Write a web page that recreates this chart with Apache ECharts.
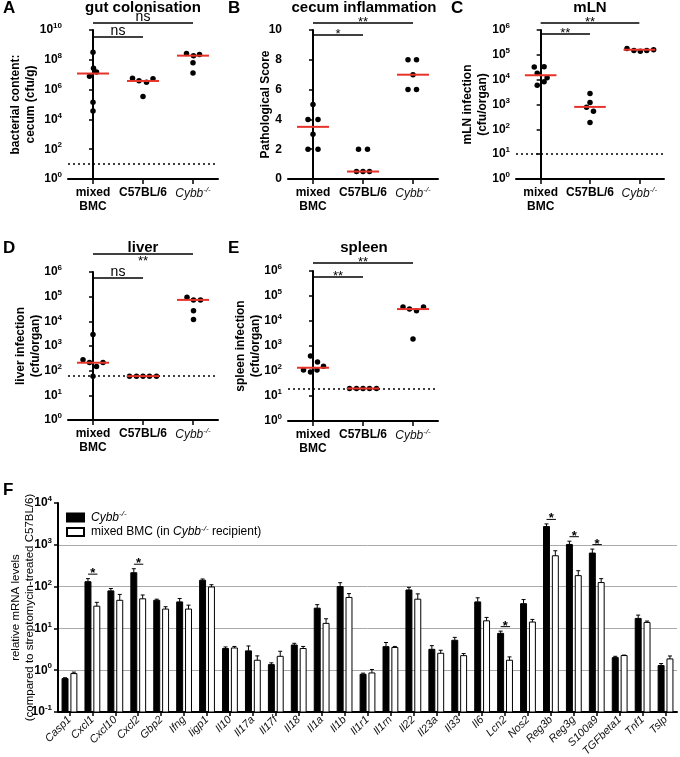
<!DOCTYPE html>
<html><head><meta charset="utf-8">
<script src="https://cdn.jsdelivr.net/npm/echarts@6/dist/echarts.min.js"></script>
<style>html,body{margin:0;padding:0;background:#fff}#c{width:680px;height:757px}</style>
</head><body><div id="c"></div>
<script>
const FONT = '"Liberation Sans", Arial, Helvetica, sans-serif';
const groupLabels = ['mixed\nBMC', 'C57BL/6', 'Cybb-/-'];

// A: gut colonisation (cfu/g)
const gutMixed = [3.2e8, 2.7e7, 1.5e7, 7.8e6, 1.4e5, 3.7e4];
const gutC57 = [5.7e6, 4.0e6, 3.1e6, 5.4e6, 3.4e5];
const gutCybb = [2.6e8, 1.9e8, 2.3e8, 6.4e7, 1.3e7];
const gutJitter = [[0, 0.01, 0.07, -0.07, 0, 0], [-0.21, -0.08, 0.07, 0.2, 0], [-0.13, 0.01, 0.13, 0, 0]];
const gutMedians = [1.2e7, 3.8e6, 1.9e8];
const gutLimit = 10;
const gutSig = [[0, 1, 'ns'], [0, 2, 'ns']];

// B: cecum inflammation (score)
const scoreMixed = [5, 4, 4, 3, 2, 2];
const scoreC57 = [2, 2, 0.5, 0.5, 0.5];
const scoreCybb = [8, 8, 7, 6, 6];
const scoreJitter = [[0, -0.1, 0.1, 0, -0.1, 0.1], [-0.09, 0.09, -0.13, 0, 0.13], [-0.1, 0.07, 0, -0.1, 0.07]];
const scoreMedians = [3.5, 0.5, 7];
const scoreSig = [[0, 1, '*'], [0, 2, '**']];

// C: mLN
const mlnMixed = [3.2e4, 3.3e4, 1.8e4, 1.2e4, 8.3e3, 5.9e3];
const mlnC57 = [2.8e3, 1.2e3, 770, 530, 190];
const mlnCybb = [1.8e5, 1.5e5, 1.4e5, 1.5e5, 1.6e5];
const mlnJitter = [[-0.13, 0.07, -0.07, 0.13, 0.07, -0.07], [0, 0, -0.07, 0.07, 0], [-0.25, -0.11, 0.02, 0.15, 0.29]];
const mlnMedians = [1.5e4, 800, 1.6e5];
const mlnLimit = 10;
const mlnSig = [[0, 1, '**'], [0, 2, '**']];

// D: liver
const liverMixed = [275, 2900, 214, 148, 214, 60];
const liverC57 = [60, 60, 60, 60, 60];
const liverCybb = [9.4e4, 7.4e4, 7.4e4, 2.7e4, 1.2e4];
const liverJitter = [[-0.2, 0, -0.07, 0.07, 0.2, 0], [-0.27, -0.13, 0, 0.13, 0.27], [-0.12, 0.01, 0.15, 0.01, 0.01]];
const liverMedians = [210, 60, 7.4e4];
const liverLimit = 60;
const liverSig = [[0, 1, 'ns'], [0, 2, '**']];

// E: spleen
const spleenMixed = [110, 400, 91, 110, 230, 155];
const spleenC57 = [20, 20, 20, 20, 20];
const spleenCybb = [3.6e4, 3.0e4, 2.6e4, 3.6e4, 1.9e3];
const spleenJitter = [[-0.19, -0.05, -0.05, 0.08, 0.09, 0.21], [-0.27, -0.13, 0, 0.13, 0.27], [-0.2, -0.07, 0.07, 0.21, 0]];
const spleenMedians = [135, 20, 3.0e4];
const spleenLimit = 20;
const spleenSig = [[0, 1, '**'], [0, 2, '**']];

// F: relative mRNA levels
const genes = ['Casp1','Cxcl1','Cxcl10','Cxcl2','Gbp2','Ifng','Iigp1','Il10','Il17a','Il17f','Il18','Il1a','Il1b','Il1r1','Il1rn','Il22','Il23a','Il33','Il6','Lcn2','Nos2','Reg3b','Reg3g','S100a9','TGFbeta1','Tnf1','Tslp'];
const cybbMean = [0.63, 131, 79, 215, 47, 43, 142, 3.3, 2.9, 1.36, 4.0, 30.5, 100, 0.80, 3.66, 83, 3.16, 5.2, 43, 7.6, 39, 2730, 1020, 634, 2.0, 17.3, 1.29];
const cybbUpper = [0.66, 155, 90, 268, 50, 52, 152, 3.6, 3.8, 1.5, 4.4, 37, 124, 0.85, 4.6, 96, 3.87, 6.1, 54, 8.6, 49, 3160, 1220, 789, 2.15, 20.8, 1.44];
const bmcMean = [0.83, 34, 47, 51, 29, 29, 98, 3.4, 1.73, 2.15, 3.3, 13.2, 55, 0.86, 3.5, 50, 2.54, 2.23, 15.2, 1.73, 14.2, 547, 183, 125, 2.24, 13.9, 1.86];
const bmcUpper = [0.90, 42, 65, 63, 33, 36, 111, 3.7, 2.2, 2.84, 3.7, 17, 68, 1.04, 3.7, 67, 3.0, 2.5, 18.3, 2.08, 16.4, 720, 240, 155, 2.3, 15, 2.19];
const geneSig = ['Cxcl1', 'Cxcl2', 'Lcn2', 'Reg3b', 'Reg3g', 'S100a9'];
const seriesNames = ['Cybb-/-', 'mixed BMC (in Cybb-/- recipient)'];

const panels = [
  {letter:'A', title:'gut colonisation', yName:'bacterial content:\ncecum (cfu/g)', type:'log', logBase:100, min:1, max:1e10,
   groups:[gutMixed, gutC57, gutCybb], jitter:gutJitter, medians:gutMedians, limit:gutLimit, sig:gutSig,
   box:{left:68, top:30, width:150, height:149}, nameGap:30, upY:-7, lowY:7, starBelow:false, tx:143, ty:8, lx:3, ly:8},
  {letter:'B', title:'cecum inflammation', yName:'Pathological Score', type:'value', min:0, max:10, interval:2,
   groups:[scoreMixed, scoreC57, scoreCybb], jitter:scoreJitter, medians:scoreMedians, limit:null, sig:scoreSig,
   box:{left:288, top:30, width:150, height:149}, nameGap:15, upY:-7, lowY:5, starBelow:false, tx:364, ty:8, lx:228, ly:8},
  {letter:'C', title:'mLN', yName:'mLN infection\n(cfu/organ)', type:'log', logBase:10, min:1, max:1e6,
   groups:[mlnMixed, mlnC57, mlnCybb], jitter:mlnJitter, medians:mlnMedians, limit:mlnLimit, sig:mlnSig,
   box:{left:516, top:30, width:148, height:149}, nameGap:26, upY:-7, lowY:4, starBelow:false, tx:590, ty:8, lx:451, ly:8},
  {letter:'D', title:'liver', yName:'liver infection\n(cfu/organ)', type:'log', logBase:10, min:1, max:1e6,
   groups:[liverMixed, liverC57, liverCybb], jitter:liverJitter, medians:liverMedians, limit:liverLimit, sig:liverSig,
   box:{left:68, top:272, width:150, height:148}, nameGap:25, upY:-18, lowY:6, starBelow:true, tx:143, ty:248, lx:3, ly:248},
  {letter:'E', title:'spleen', yName:'spleen infection\n(cfu/organ)', type:'log', logBase:10, min:1, max:1e6,
   groups:[spleenMixed, spleenC57, spleenCybb], jitter:spleenJitter, medians:spleenMedians, limit:spleenLimit, sig:spleenSig,
   box:{left:288, top:271, width:150, height:150}, nameGap:25, upY:-8, lowY:6, starBelow:false, tx:364, ty:248, lx:228, ly:248}
];

const rich = {
  b: {fontFamily: FONT, fontSize: 12, fontWeight: 'bold', color: '#000', lineHeight: 16},
  s: {fontFamily: FONT, fontSize: 8, fontWeight: 'bold', color: '#000', lineHeight: 9, verticalAlign: 'top'},
  m: {fontFamily: FONT, fontSize: 12, fontWeight: 'bold', color: '#000', lineHeight: 14},
  i: {fontFamily: FONT, fontSize: 12, fontStyle: 'italic', color: '#111', lineHeight: 16},
  is: {fontFamily: FONT, fontSize: 8, fontStyle: 'italic', color: '#111', lineHeight: 9, verticalAlign: 'top'}
};
function powLabel(v) { const e = Math.round(Math.log10(v)); return '{b|10}{s|' + e + '}'; }
function groupLabel(v) {
  if (v.indexOf('Cybb') === 0) return '{i|Cybb}{is|-/-}';
  return v.split('\n').map(t => '{m|' + t + '}').join('\n');
}
const axisLineStyle = {show: true, lineStyle: {color: '#000', width: 2}};

const grid = [], xAxis = [], yAxis = [], series = [], graphic = [];

panels.forEach((p, k) => {
  grid.push(Object.assign({containLabel: false, outerBoundsMode: 'none'}, p.box));
  xAxis.push({type: 'category', gridIndex: k, data: groupLabels, boundaryGap: true,
    axisLine: axisLineStyle, axisTick: {show: true, alignWithLabel: true, length: 5, lineStyle: {color: '#000', width: 1.5}},
    axisLabel: {interval: 0, margin: 7, formatter: groupLabel, rich: rich}, splitLine: {show: false}});
  xAxis.push({type: 'value', gridIndex: k, min: -0.5, max: 2.5, show: false});
  const ya = {type: p.type, gridIndex: k, min: p.min, max: p.max,
    axisLine: axisLineStyle, axisTick: {show: true, length: 4, lineStyle: {color: '#000', width: 1.5}},
    splitLine: {show: false},
    name: p.yName, nameLocation: 'middle', nameGap: p.nameGap, nameMoveOverlap: false,
    nameTextStyle: {fontFamily: FONT, fontSize: 12, fontWeight: 'bold', color: '#000', lineHeight: 15}};
  if (p.type === 'log') {
    ya.logBase = p.logBase;
    ya.axisLabel = {margin: 6, formatter: powLabel, rich: rich};
  } else {
    ya.interval = p.interval;
    ya.axisLabel = {margin: 6, fontFamily: FONT, fontSize: 12, fontWeight: 'bold', color: '#000'};
  }
  yAxis.push(ya);

  const pts = [];
  p.groups.forEach((arr, g) => arr.forEach((v, j) => pts.push([g + p.jitter[g][j], v])));
  const sc = {type: 'scatter', xAxisIndex: 2 * k + 1, yAxisIndex: k, data: pts, symbolSize: 5.5,
    itemStyle: {color: '#000', opacity: 1}, z: 3, silent: true};
  if (p.limit != null) {
    sc.markLine = {silent: true, symbol: 'none', label: {show: false},
      lineStyle: {color: '#000', type: [2, 3], width: 1.5, opacity: 1}, data: [{yAxis: p.limit}]};
  }
  series.push(sc);

  series.push({type: 'custom', xAxisIndex: 2 * k + 1, yAxisIndex: k, z: 5, silent: true,
    data: p.medians.map((m, g) => [g, m]), encode: {x: 0, y: 1},
    renderItem: (params, api) => {
      const g = api.value(0), m = api.value(1);
      const a = api.coord([g - 0.32, m]), b = api.coord([g + 0.32, m]);
      return {type: 'line', shape: {x1: a[0], y1: a[1], x2: b[0], y2: b[1]}, style: {stroke: '#e5332a', lineWidth: 2}};
    }});

  series.push({type: 'custom', xAxisIndex: 2 * k + 1, yAxisIndex: k, z: 5, silent: true, clip: false,
    data: p.sig.map(s => [s[0], s[1], p.min]), encode: {x: [0, 1], y: 2},
    renderItem: (params, api) => {
      const s = p.sig[params.dataIndex];
      const cs = params.coordSys;
      const upper = s[1] === 2;
      const y = cs.y + (upper ? p.upY : p.lowY);
      const x1 = api.coord([api.value(0), p.min])[0];
      const x2 = api.coord([api.value(1), p.min])[0];
      const isStar = s[2].indexOf('*') >= 0;
      let ty, va;
      if (!isStar) { ty = y + 1; va = 'bottom'; }
      else if (upper && p.starBelow) { ty = y + 1; va = 'top'; }
      else { ty = y - 7; va = 'top'; }
      return {type: 'group', children: [
        {type: 'line', shape: {x1: x1, y1: y, x2: x2, y2: y}, style: {stroke: '#000', lineWidth: 1.5}},
        {type: 'text', style: {text: s[2], x: (x1 + x2) / 2, y: ty, fill: '#000',
          font: (isStar ? '13px ' : '14px ') + FONT, align: 'center', textAlign: 'center', verticalAlign: va, textVerticalAlign: va}}
      ]};
    }});

  graphic.push({type: 'text', x: p.tx, y: p.ty, style: {text: p.title, fill: '#000', font: 'bold 15px ' + FONT,
    align: 'center', textAlign: 'center', verticalAlign: 'middle', textVerticalAlign: 'middle'}});
  graphic.push({type: 'text', x: p.lx, y: p.ly, style: {text: p.letter, fill: '#000', font: 'bold 17px ' + FONT,
    align: 'left', textAlign: 'left', verticalAlign: 'middle', textVerticalAlign: 'middle'}});
});

// Panel F
const fk = panels.length;
const F_MIN = 0.1;
grid.push({left: 58, top: 503, width: 619, height: 209, containLabel: false, outerBoundsMode: 'none'});
xAxis.push({type: 'category', gridIndex: fk, data: genes, boundaryGap: true,
  axisLine: axisLineStyle, axisTick: {show: true, alignWithLabel: true, length: 4, lineStyle: {color: '#000', width: 1.5}},
  axisLabel: {interval: 0, rotate: 45, margin: 6, fontFamily: FONT, fontSize: 11, fontStyle: 'italic', color: '#111'}});
yAxis.push({type: 'log', logBase: 10, gridIndex: fk, min: F_MIN, max: 1e4,
  axisLine: axisLineStyle, axisTick: {show: true, length: 4, lineStyle: {color: '#000', width: 1.5}},
  axisLabel: {margin: 6, formatter: powLabel, rich: rich},
  splitLine: {show: true, showMinLine: false, showMaxLine: false, lineStyle: {color: '#aaa', width: 1}},
  name: 'relative mRNA levels\n(compared to streptomycin-treated C57BL/6)', nameLocation: 'middle', nameGap: 21,
  nameMoveOverlap: false,
  nameTextStyle: {fontFamily: FONT, fontSize: 11.5, color: '#000', lineHeight: 14}});

function barRender(side, fill) {
  return (params, api) => {
    const c = api.value(0), v = api.value(1), e = api.value(2);
    const band = api.size([1, 0])[0];
    const top = api.coord([c, v]), base = api.coord([c, F_MIN]), et = api.coord([c, e]);
    const cx = top[0] + side * band * 0.193;
    const w = band * 0.26;
    return {type: 'group', children: [
      {type: 'rect', shape: {x: cx - w / 2, y: top[1], width: w, height: base[1] - top[1]},
        style: {fill: fill, stroke: '#000', lineWidth: 1}},
      {type: 'line', shape: {x1: cx, y1: top[1], x2: cx, y2: et[1]}, style: {stroke: '#000', lineWidth: 1}},
      {type: 'line', shape: {x1: cx - 2, y1: et[1], x2: cx + 2, y2: et[1]}, style: {stroke: '#000', lineWidth: 1}}
    ]};
  };
}
series.push({name: seriesNames[0], type: 'custom', xAxisIndex: 2 * fk, yAxisIndex: fk, silent: true,
  itemStyle: {color: '#000', borderColor: '#000', borderWidth: 1},
  data: genes.map((g, i) => [g, cybbMean[i], cybbUpper[i]]), encode: {x: 0, y: 1},
  renderItem: barRender(-1, '#000')});
series.push({name: seriesNames[1], type: 'custom', xAxisIndex: 2 * fk, yAxisIndex: fk, silent: true,
  itemStyle: {color: '#fff', borderColor: '#000', borderWidth: 1},
  data: genes.map((g, i) => [g, bmcMean[i], bmcUpper[i]]), encode: {x: 0, y: 1},
  renderItem: barRender(1, '#fff')});
series.push({type: 'custom', xAxisIndex: 2 * fk, yAxisIndex: fk, silent: true, clip: false, z: 5,
  data: geneSig.map(g => { const i = genes.indexOf(g); return [g, Math.max(cybbUpper[i], bmcUpper[i])]; }),
  encode: {x: 0, y: 1},
  renderItem: (params, api) => {
    const c = api.value(0), e = api.value(1);
    const band = api.size([1, 0])[0];
    const p = api.coord([c, e]);
    const y = p[1] - 4.5;
    const x1 = p[0] - band * 0.19, x2 = p[0] + band * 0.22;
    return {type: 'group', children: [
      {type: 'line', shape: {x1: x1, y1: y, x2: x2, y2: y}, style: {stroke: '#000', lineWidth: 1}},
      {type: 'text', style: {text: '*', x: (x1 + x2) / 2, y: y - 7, fill: '#000', font: 'bold 13px ' + FONT,
        align: 'center', textAlign: 'center', verticalAlign: 'top', textVerticalAlign: 'top'}}
    ]};
  }});
graphic.push({type: 'text', x: 3, y: 490, style: {text: 'F', fill: '#000', font: 'bold 17px ' + FONT,
  align: 'left', textAlign: 'left', verticalAlign: 'middle', textVerticalAlign: 'middle'}});

const legendRich = {
  n: {fontFamily: FONT, fontSize: 12, color: '#000', lineHeight: 15},
  i: {fontFamily: FONT, fontSize: 12, fontStyle: 'italic', color: '#000', lineHeight: 15},
  s: {fontFamily: FONT, fontSize: 8, fontStyle: 'italic', color: '#000', lineHeight: 8, verticalAlign: 'top'}
};

const chart = echarts.init(document.getElementById('c'), null, {renderer: 'canvas'});
chart.setOption({
  animation: false,
  backgroundColor: '#fff',
  textStyle: {fontFamily: FONT},
  grid: grid, xAxis: xAxis, yAxis: yAxis, series: series, graphic: graphic,
  legend: {show: true, left: 66, top: 510, padding: 0, orient: 'vertical', icon: 'rect', itemWidth: 17, itemHeight: 8, itemGap: 1,
    selectedMode: false, data: seriesNames,
    formatter: name => name.replace(/Cybb-\/-/, '\u0001').split('\u0001').map(t => t ? '{n|' + t + '}' : '').join('{i|Cybb}{s|-/-}'),
    textStyle: {rich: legendRich, padding: [0, 0, 0, 2]}}
});
</script></body></html>
